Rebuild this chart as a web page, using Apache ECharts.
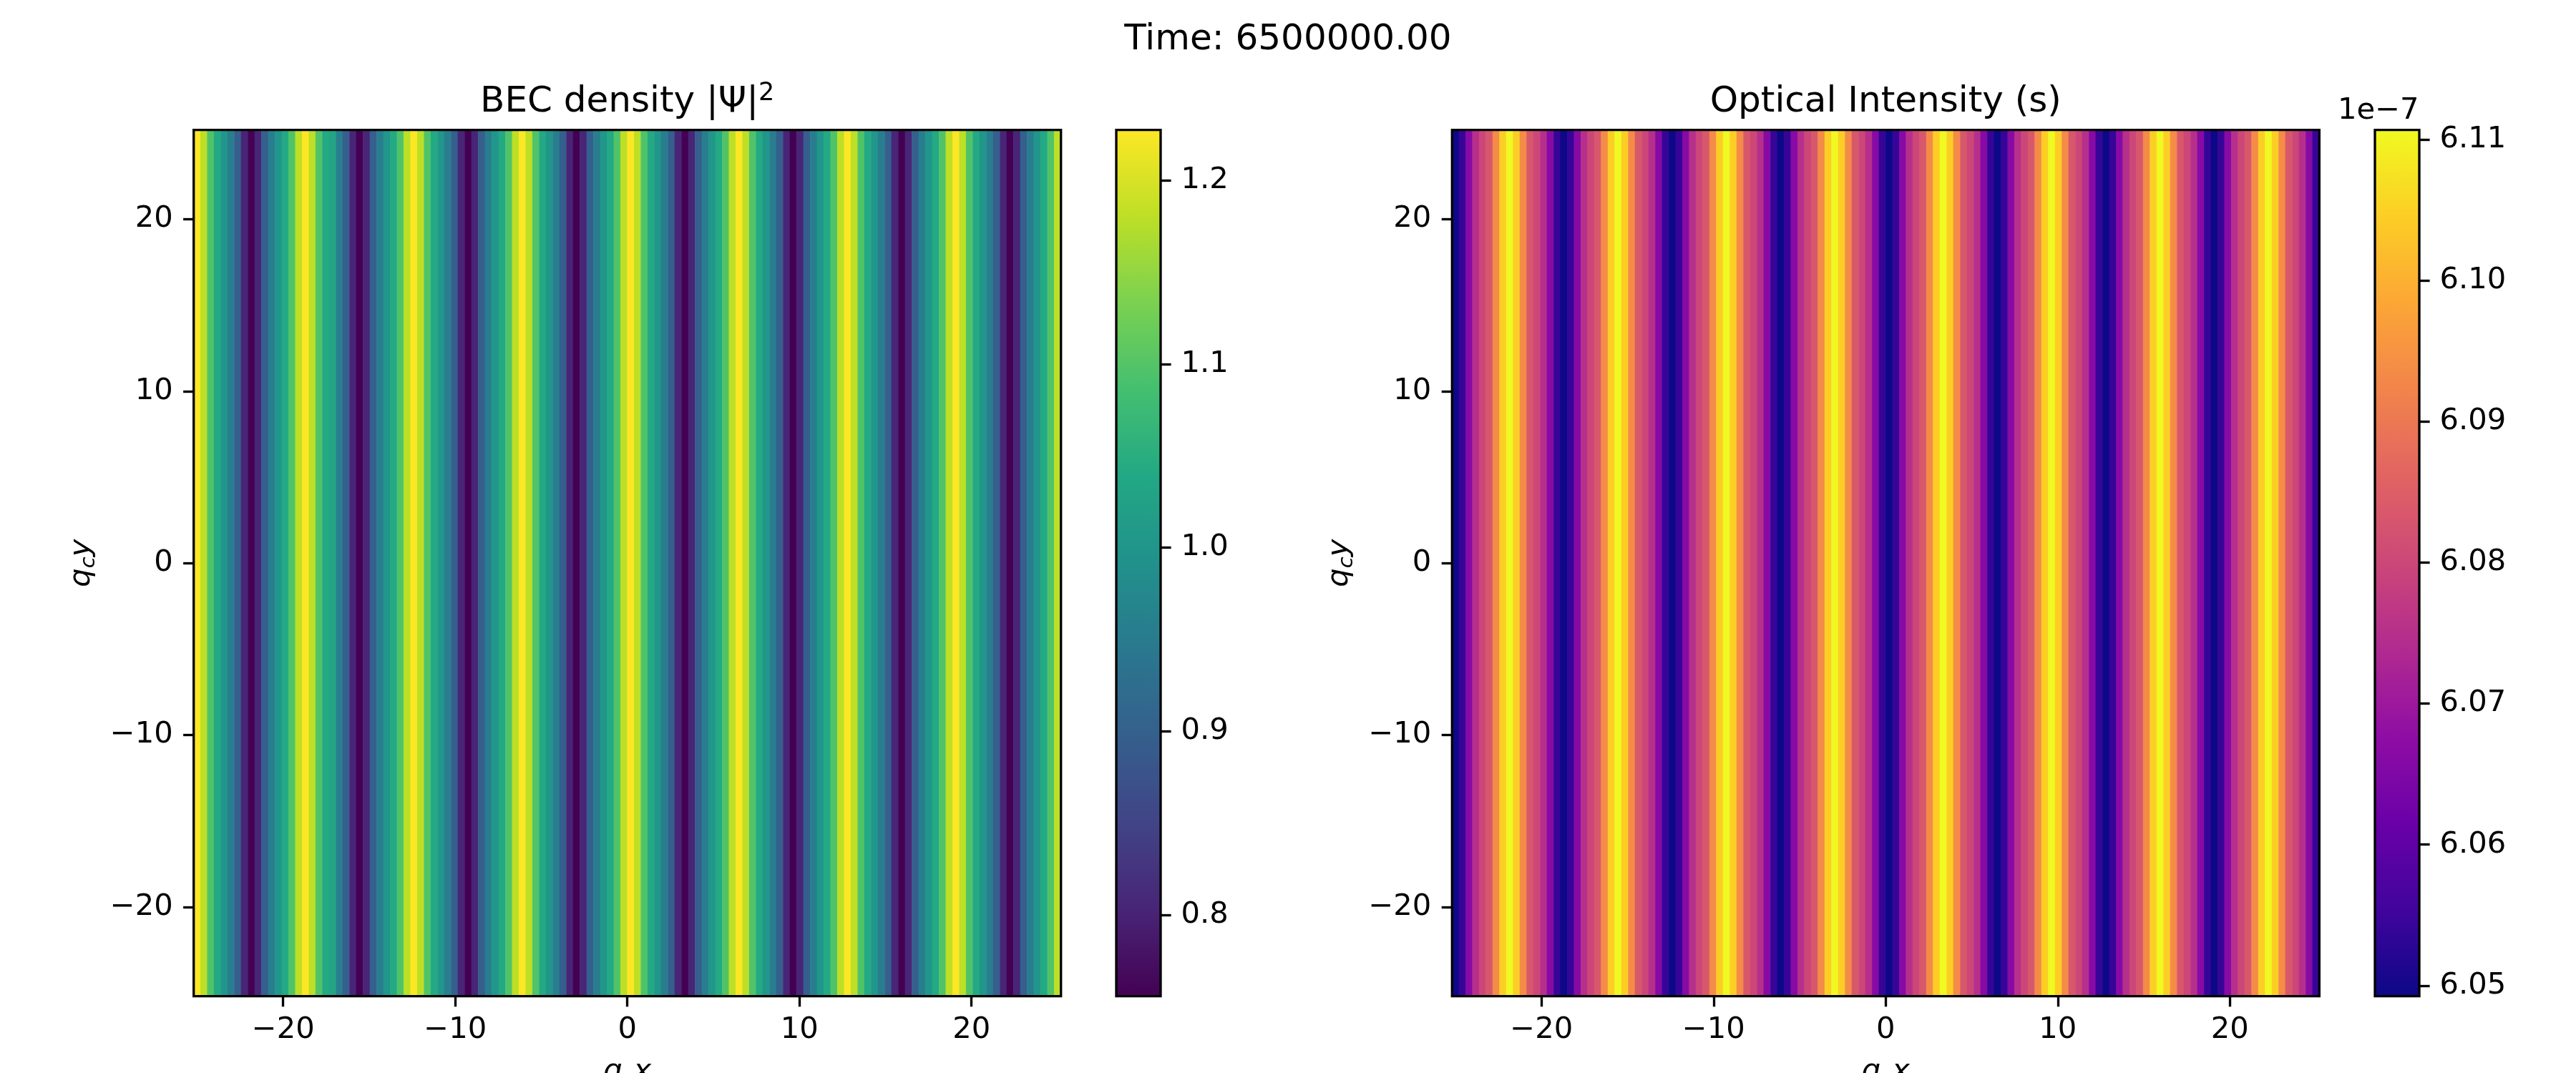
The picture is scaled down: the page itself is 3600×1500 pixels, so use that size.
<!DOCTYPE html>
<html>
<head>
<meta charset="utf-8">
<style>html,body{margin:0;padding:0;background:#fff}#c{width:3600px;height:1500px}</style>
<script src="https://cdn.jsdelivr.net/npm/echarts@6/dist/echarts.min.js"></script>
</head>
<body>
<div id="c"></div>
<script>
(function () {
const suptitle = 'Time: 6500000.00';
const densityColumns = [
1.227,1.180,1.096,1.040,1.001,0.956,0.897,0.803,0.756,0.803,0.897,0.956,1.001,1.040,1.096,1.180,
1.227,1.180,1.096,1.040,1.030,0.956,0.897,0.803,0.756,0.803,0.897,0.956,1.001,1.040,1.096,1.180,
1.227,1.180,1.096,1.040,1.001,0.956,0.897,0.803,0.756,0.803,0.897,0.956,1.001,1.040,1.096,1.180,
1.227,1.180,1.096,1.040,1.001,0.956,0.897,0.803,0.756,0.803,0.897,0.956,1.001,1.040,1.096,1.180,
1.227,1.180,1.096,1.040,1.001,0.956,0.897,0.803,0.756,0.803,0.897,0.956,1.001,1.040,1.096,1.180,
1.227,1.180,1.096,1.040,1.001,0.956,0.897,0.803,0.756,0.803,0.897,0.956,1.001,1.040,1.096,1.180,
1.227,1.180,1.096,1.040,1.001,0.956,0.897,0.803,0.756,0.803,0.897,0.956,1.001,1.040,1.096,1.180,
1.227,1.180,1.096,1.040,1.001,0.956,0.897,0.803,0.756,0.803,0.897,0.956,1.001,1.040,1.096,1.180
];
const intensityColumns = [
6.0493,6.0541,6.0664,6.0750,6.0800,6.0836,6.0935,6.1045,6.1106,6.1045,6.0935,6.0836,6.0800,6.0750,6.0664,6.0541,
6.0493,6.0541,6.0664,6.0750,6.0800,6.0836,6.0935,6.1045,6.1106,6.1045,6.0935,6.0836,6.0800,6.0750,6.0664,6.0541,
6.0493,6.0541,6.0664,6.0750,6.0800,6.0836,6.0935,6.1045,6.1106,6.1045,6.0935,6.0836,6.0800,6.0750,6.0664,6.0541,
6.0493,6.0541,6.0664,6.0750,6.0800,6.0836,6.0935,6.1045,6.1106,6.1045,6.0935,6.0836,6.0800,6.0750,6.0664,6.0541,
6.0493,6.0541,6.0664,6.0750,6.0800,6.0836,6.0935,6.1045,6.1106,6.1045,6.0935,6.0836,6.0800,6.0750,6.0664,6.0541,
6.0493,6.0541,6.0664,6.0750,6.0800,6.0836,6.0935,6.1045,6.1106,6.1045,6.0935,6.0836,6.0800,6.0750,6.0664,6.0541,
6.0493,6.0541,6.0664,6.0750,6.0800,6.0836,6.0935,6.1045,6.1106,6.1045,6.0935,6.0836,6.0800,6.0750,6.0664,6.0541,
6.0493,6.0541,6.0664,6.0750,6.0800,6.0836,6.0935,6.1045,6.1106,6.1045,6.0935,6.0836,6.0800,6.0750,6.0664,6.0541
];
const positionTicks = [-20, -10, 0, 10, 20];
const densityTicks = [0.8, 0.9, 1.0, 1.1, 1.2];
const intensityTicks = [6.05, 6.06, 6.07, 6.08, 6.09, 6.10, 6.11];
const densityRange = [0.7558, 1.2274];
const intensityRange = [6.04925, 6.11067];
const positionExtent = 25.197;
const viridis = ['#440154','#482576','#414487','#355f8d','#2a788e','#21918c','#22a884','#44bf70','#7ad151','#bddf26','#fde725'];
const plasma = ['#0d0887','#41049d','#6a00a8','#8f0da4','#b12a90','#cc4778','#e16462','#f2844b','#fca636','#fcce25','#f0f921'];

const FONT = 'DejaVu Sans';
const TICK_PX = 41.67, TITLE_PX = 50, LW = 3.33, TICK_LEN = 14.6;
const plotW = 1212, plotH = 1211, plotTop = 181.7;
const plotLefts = [270.7, 2029.3];
const barLefts = [1560, 3319];
const barW = 62;

const rows = ['all y'];   // the field does not vary along y
const cols = densityColumns.map((_, i) => i);
const cells = values => values.map((v, c) => [c, 0, v]);
const minus = v => String(v).replace('-', '\u2212');
const mathRich = {
  i: {fontFamily: FONT, fontStyle: 'italic', fontSize: TICK_PX, color: '#000', lineHeight: 50},
  s: {fontFamily: FONT, fontStyle: 'italic', fontSize: 29, color: '#000', lineHeight: 50, verticalAlign: 'bottom', padding: [0, 0, 0, 0]}
};
const grids = [], xAxes = [], yAxes = [], series = [], visualMaps = [];
const hiddenCat = (data, gridIndex) => ({type: 'category', data, gridIndex, show: false, boundaryGap: true});

function plot(i, values, range, colors, barTicks, barFmt) {
  const g = grids.length;
  grids.push({left: plotLefts[i], top: plotTop, width: plotW, height: plotH, show: true, z: 5,
    borderColor: '#000', borderWidth: LW, backgroundColor: 'transparent', containLabel: false, outerBoundsMode: 'none'});
  const cx = xAxes.length, cy = yAxes.length;
  xAxes.push(hiddenCat(cols, g));
  yAxes.push(hiddenCat(rows, g));
  const tick = {show: true, length: TICK_LEN, lineStyle: {color: '#000', width: LW}, customValues: positionTicks};
  const label = {show: true, fontFamily: FONT, fontSize: TICK_PX, color: '#000', customValues: positionTicks, formatter: minus};
  xAxes.push({type: 'value', gridIndex: g, position: 'bottom', min: -positionExtent, max: positionExtent,
    axisLine: {show: false, onZero: false}, splitLine: {show: false}, axisTick: tick, axisLabel: {...label, margin: 26},
    name: '{i|q}{s|c}{i|x}', nameLocation: 'middle', nameGap: 80, nameTextStyle: {rich: mathRich}});
  yAxes.push({type: 'value', gridIndex: g, position: 'left', min: -positionExtent, max: positionExtent,
    axisLine: {show: false, onZero: false}, splitLine: {show: false}, axisTick: tick,
    axisLabel: {...label, margin: 29, padding: [5, 0, 0, 0]},
    name: '{i|q}{s|c}{i|y}', nameLocation: 'middle', nameGap: 132, nameRotate: 90, nameTextStyle: {rich: mathRich}});
  const si = series.length;
  series.push({type: 'heatmap', xAxisIndex: cx, yAxisIndex: cy, data: cells(values), progressive: 0,
    animation: false, silent: true, z: 2, itemStyle: {borderWidth: 0}, emphasis: {disabled: true}});
  visualMaps.push({type: 'continuous', seriesIndex: si, dimension: 2, min: range[0], max: range[1],
    inRange: {color: colors}, calculable: false, hoverLink: false, text: null, show: true, realtime: false,
    left: barLefts[i], top: plotTop, itemWidth: barW, itemHeight: plotH, padding: 0, z: 1, orient: 'vertical'});
  const b = grids.length;
  grids.push({left: barLefts[i], top: plotTop, width: barW, height: plotH, show: true, z: 5,
    borderColor: '#000', borderWidth: LW, backgroundColor: 'transparent', outerBoundsMode: 'none'});
  xAxes.push({type: 'value', gridIndex: b, show: false, min: 0, max: 1});
  yAxes.push({type: 'value', gridIndex: b, position: 'right', min: range[0], max: range[1], z: 6,
    axisLine: {show: false, onZero: false}, splitLine: {show: false},
    axisTick: {show: true, length: TICK_LEN, lineStyle: {color: '#000', width: LW}, customValues: barTicks},
    axisLabel: {show: true, fontFamily: FONT, fontSize: TICK_PX, color: '#000', margin: 28.5, padding: [9, 0, 0, 0], customValues: barTicks, formatter: barFmt}});
}
plot(0, densityColumns, densityRange, viridis, densityTicks, v => v.toFixed(1));
plot(1, intensityColumns, intensityRange, plasma, intensityTicks, v => v.toFixed(2));

const titleStyle = {fontFamily: FONT, fontSize: TITLE_PX, fontWeight: 'normal', color: '#000',
  rich: {t: {fontFamily: FONT, fontSize: TITLE_PX, color: '#000', lineHeight: 60},
         u: {fontFamily: FONT, fontSize: 35, color: '#000', lineHeight: 60, verticalAlign: 'top'}}};
const chart = echarts.init(document.getElementById('c'), null, {renderer: 'canvas', width: 3600, height: 1500});
chart.setOption({
  animation: false,
  backgroundColor: '#fff',
  title: [
    {text: suptitle, left: 1800, top: 31, textAlign: 'center', padding: 0, textStyle: titleStyle},
    {text: '{t|BEC density |\u03A8|}{u|2}', left: 876.7, top: 113, textAlign: 'center', padding: 0, textStyle: titleStyle},
    {text: 'Optical Intensity (s)', left: 2635.3, top: 118, textAlign: 'center', padding: 0, textStyle: titleStyle},
    {text: '1e\u22127', left: 3267, top: 134, padding: 0, textStyle: {fontFamily: FONT, fontSize: TICK_PX, fontWeight: 'normal', color: '#000'}}
  ],
  grid: grids, xAxis: xAxes, yAxis: yAxes, visualMap: visualMaps, series
});
})();
</script>
</body>
</html>
